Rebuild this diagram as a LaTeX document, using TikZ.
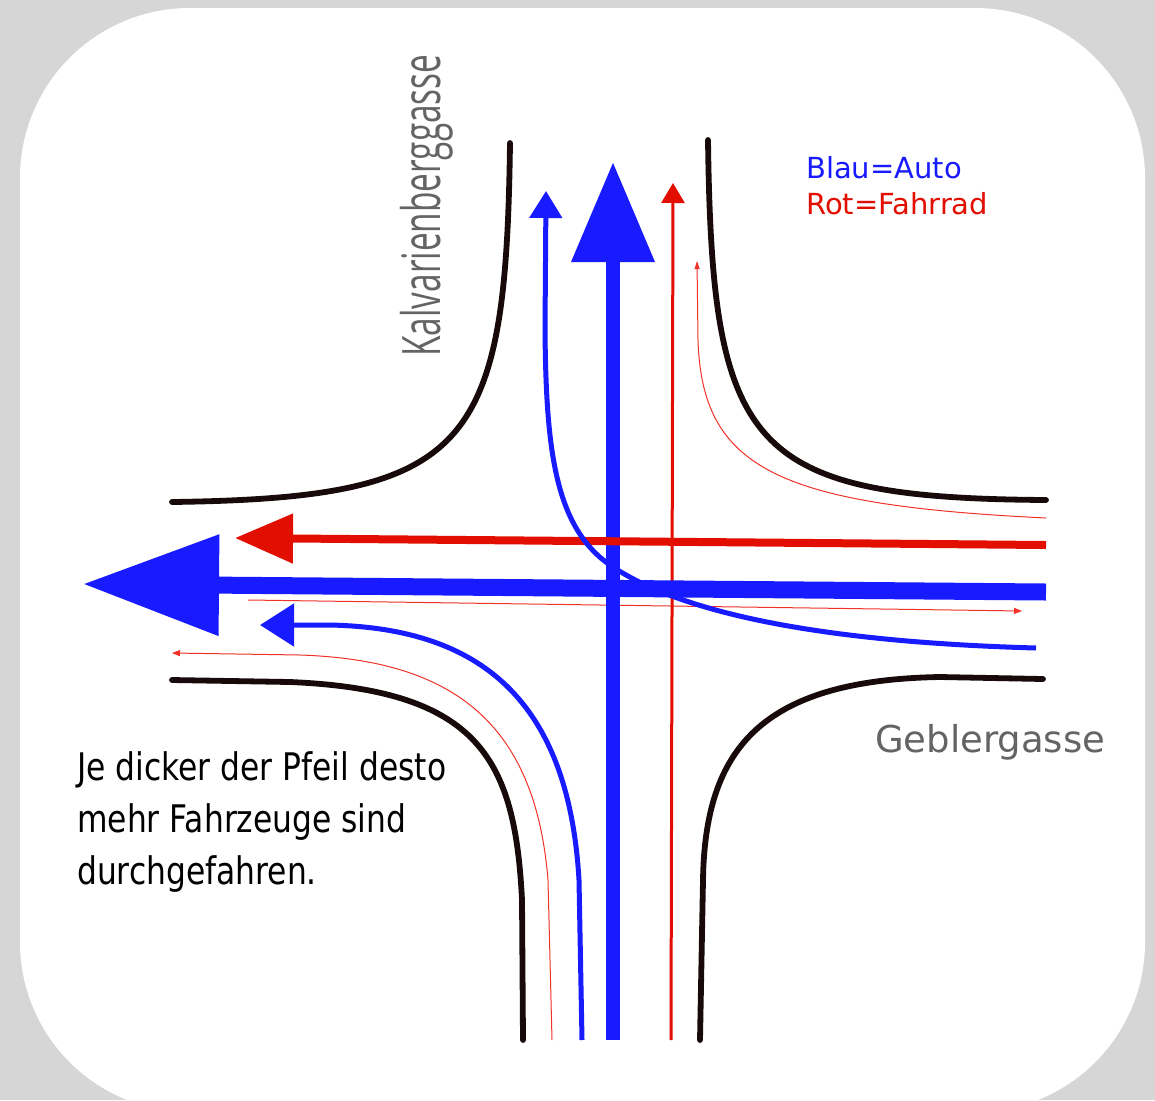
\documentclass[tikz,border=0pt]{standalone}
\usepackage{fontspec}
\setmainfont{DejaVu Sans}
\newfontfamily\streetfont[FakeStretch=0.63]{Open Sans}
\newfontfamily\notefont[FakeStretch=0.825]{DejaVu Sans}
\usetikzlibrary{arrows.meta,positioning}

\definecolor{backgray}{RGB}{214,214,214}
\definecolor{roadblack}{RGB}{24,10,10}
\definecolor{carblue}{RGB}{24,26,255}
\definecolor{bikered}{RGB}{226,14,0}
\definecolor{thinred}{RGB}{240,50,40}
\definecolor{streetgray}{RGB}{100,100,100}

\tikzset{
  road/.style={color=roadblack, line width=5.8pt, line cap=round},
  autopfeil/.style={color=carblue, line width=#1},
  radpfeil/.style={color=bikered, line width=#1},
  duenn/.style={color=thinred, line width=1pt},
  legende/.style={inner sep=0pt, anchor=base west, font=\fontsize{29}{34}\selectfont},
}

\begin{document}
\begin{tikzpicture}[x=1pt,y=-1pt]
  \useasboundingbox (0,0) rectangle (1155,1100);
  \fill[backgray] (0,0) rectangle (1155,1100);
  \fill[white, rounded corners=170pt] (20,8) rectangle (1145,1112);

  % Strassenraender
  \draw[road] (510,143) .. controls (506,450) and (470,498) .. (172,502);
  \draw[road] (708,140) .. controls (712,450) and (748,498) .. (1046,500);
  \draw[road] (172,680) -- (290,682) .. controls (480,690) and (515,760) .. (522,900) -- (523,1040);
  \draw[road] (1043,679) -- (940,677) .. controls (760,680) and (705,750) .. (703,880) -- (700,1040);

  \coordinate (ns-start) at (613,1040);
  \coordinate (ns-end) at (613,162);
  \coordinate (ow-start) at (1046,592);
  \coordinate (ow-end) at (83,584);
  \coordinate (sw-start) at (582,1040);
  \coordinate (sw-end) at (260,625);
  \coordinate (on-start) at (1036,648);
  \coordinate (on-end) at (546,191);

  \coordinate (rad-ns-start) at (671,1040);
  \coordinate (rad-ns-end) at (673,183);
  \coordinate (rad-ow-start) at (1046,545);
  \coordinate (rad-ow-end) at (235,538);
  \coordinate (rad-wo-start) at (248,600);
  \coordinate (rad-wo-end) at (1022,611);
  \coordinate (rad-sw-start) at (552,1040);
  \coordinate (rad-sw-end) at (172,653);
  \coordinate (rad-on-start) at (1046,518);
  \coordinate (rad-on-end) at (697,261);

  % Fahrrad, duenn
  \draw[duenn, -{Triangle[length=8pt,width=6pt]}] (rad-wo-start) -- (rad-wo-end);
  \draw[duenn, -{Triangle[length=8pt,width=6pt]}] (rad-sw-start) -- (548,880) .. controls (535,720) and (450,660) .. (300,655) -- (rad-sw-end);
  \draw[duenn, -{Triangle[length=8pt,width=5pt]}] (rad-on-start) .. controls (780,505) and (702,470) .. (698,340) -- (rad-on-end);

  % Autos
  \draw[autopfeil=14pt, -{Triangle[length=100pt,width=80pt]}] (ns-start) -- (ns-end);
  \draw[radpfeil=3pt, -{Triangle[length=20pt,width=23pt]}] (rad-ns-start) -- (rad-ns-end);
  \draw[autopfeil=17pt, -{Triangle[length=136pt,width=97pt]}] (ow-start) -- (ow-end);
  \draw[radpfeil=8pt, -{Triangle[length=58pt,width=48pt]}] (rad-ow-start) -- (rad-ow-end);
  \draw[autopfeil=5pt, -{Triangle[length=34pt,width=42pt]}] (sw-start) -- (579,880) .. controls (568,690) and (470,628) .. (330,625) -- (sw-end);
  \draw[autopfeil=5pt, -{Triangle[length=27pt,width=32pt]}] (on-start) .. controls (820,642) and (680,613) .. (610,565) .. controls (555,527) and (546,450) .. (545,330) -- (on-end);

  % Beschriftung
  \node[inner sep=0pt, rotate=90, anchor=base west, color=streetgray, font=\streetfont\fontsize{53}{60}\selectfont] (kalvarien) at (440,357) {Kalvarienberggasse};
  \node[inner sep=0pt, anchor=base west, color=streetgray, font=\fontsize{37}{44}\selectfont] (gebler) at (875,752) {Geblergasse};
  \node[legende, color=carblue] (blau) at (806,178) {Blau=Auto};
  \node[legende, color=bikered] (rot) at (806,214) {Rot=Fahrrad};
  \node[inner sep=0pt, anchor=north west, align=left, font=\notefont\fontsize{38}{52}\selectfont] (notiz) at (77,751) {Je dicker der Pfeil desto\\mehr Fahrzeuge sind\\durchgefahren.};
\end{tikzpicture}
\end{document}
